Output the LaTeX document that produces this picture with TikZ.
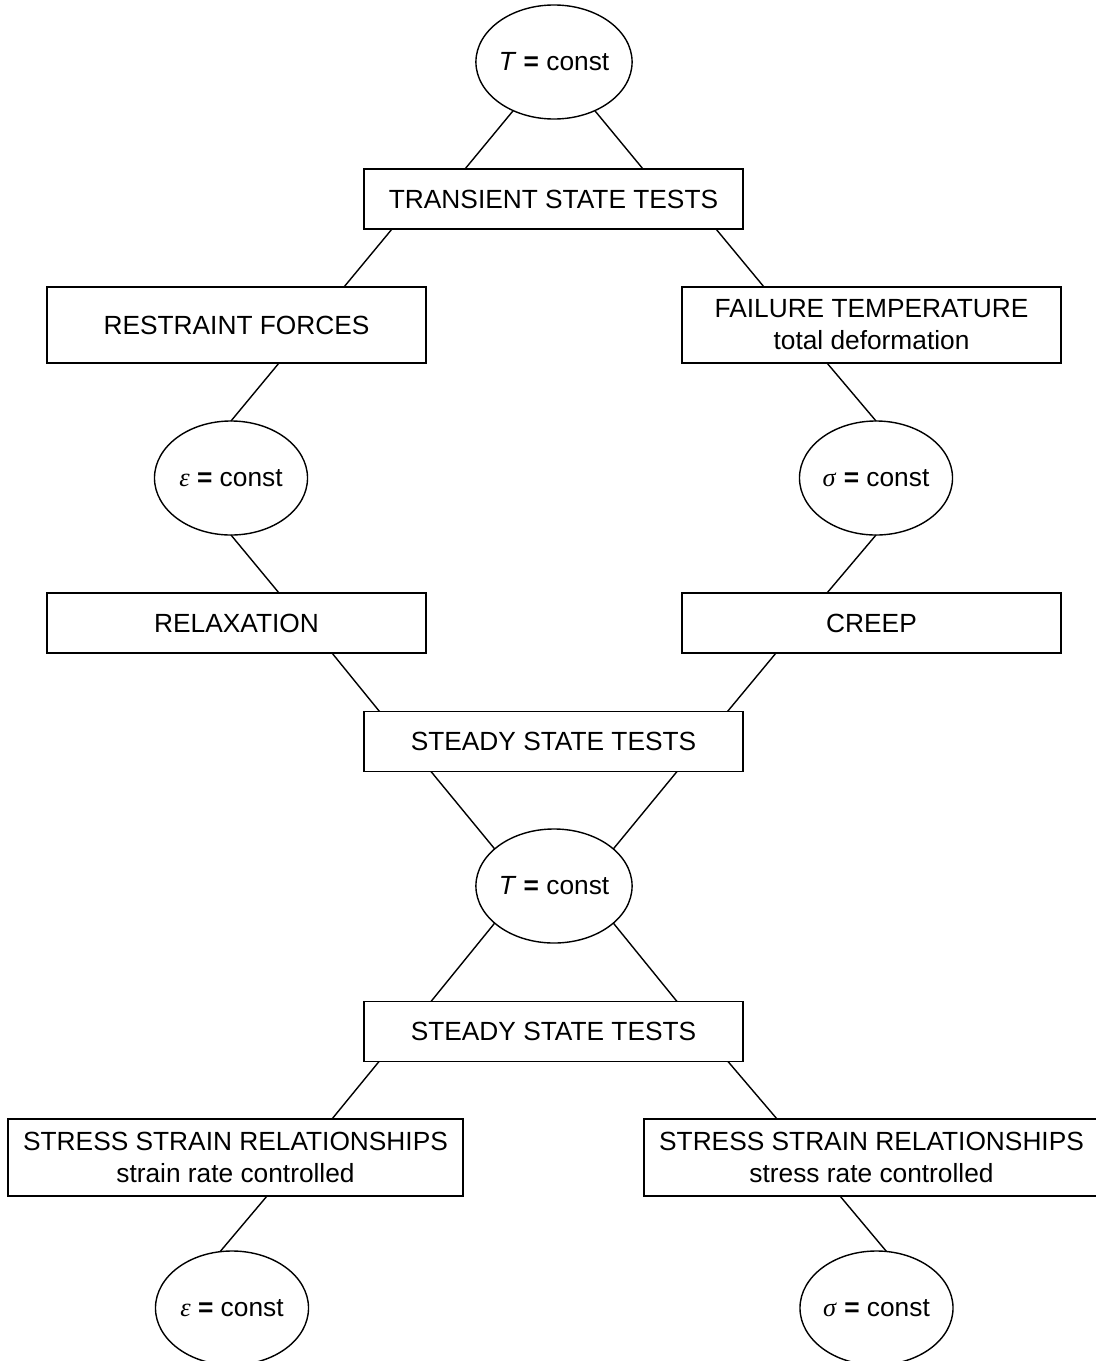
\documentclass[tikz,border=0pt]{standalone}
\usepackage{amsmath}
\usepackage{fontspec}
\setmainfont{Liberation Sans}
\newfontfamily\greekfont{Liberation Serif}
\usetikzlibrary{calc, shapes, positioning}

\tikzset{
	box/.style={draw, line width=1pt, minimum width=9.475cm, minimum height=1.5cm,
		inner sep=0pt, outer sep=0pt, align=center},
	tallbox/.style={box, minimum height=1.9cm},
	widebox/.style={box, minimum width=11.375cm, minimum height=1.925cm},
	oval/.style={draw, line width=1pt, ellipse, minimum width=3.825cm, minimum height=2.85cm,
		inner sep=0pt, outer sep=0pt},
	link/.style={line width=1pt},
}
\newcommand{\isconst}[1]{#1 \textbf{=} const}
\newcommand{\grk}[1]{{\greekfont\itshape #1}}

\begin{document}
\begin{tikzpicture}[x=0.025cm, y=-0.025cm, font=\fontsize{18.7}{22.8}\selectfont]
	\useasboundingbox (0,0) rectangle (1096,1361);
	
	\coordinate (Ttop)  at (554,62);
	\coordinate (Tr)    at (553.5,199);
	\coordinate (Rf)    at (236.5,325);
	\coordinate (Ft)    at (871.5,325);
	\coordinate (Eps)   at (231,478);
	\coordinate (Sig)   at (876,478);
	\coordinate (Rx)    at (236.5,623);
	\coordinate (Cr)    at (871.5,623);
	\coordinate (St)    at (553.5,741.5);
	\coordinate (Tmid)  at (554,886);
	\coordinate (Std)   at (553.5,1031.5);
	\coordinate (Ssl)   at (235.5,1157.5);
	\coordinate (Ssr)   at (871.5,1157.5);
	\coordinate (Epsd)  at (232,1308);
	\coordinate (Sigd)  at (876.5,1308);
	
	\node[oval] (T1) at (Ttop) {\isconst{\textit{T}}};
	\node[box] (TST) at (Tr) {TRANSIENT STATE TESTS};
	\node[tallbox] (RF) at (Rf) {RESTRAINT FORCES};
	\node[tallbox] (FT) at (Ft) {FAILURE TEMPERATURE\\total deformation};
	\node[oval] (E1) at (Eps) {\isconst{\grk{ε}}};
	\node[oval] (S1) at (Sig) {\isconst{\grk{σ}}};
	\node[box] (RX) at (Rx) {RELAXATION};
	\node[box] (CR) at (Cr) {CREEP};
	\node[box] (SST1) at (St) {STEADY STATE TESTS};
	\node[oval] (T2) at (Tmid) {\isconst{\textit{T}}};
	\node[box] (SST2) at (Std) {STEADY STATE TESTS};
	\node[widebox] (SSL) at (Ssl) {STRESS STRAIN RELATIONSHIPS\\strain rate controlled};
	\node[widebox] (SSR) at (Ssr) {STRESS STRAIN RELATIONSHIPS\\stress rate controlled};
	\node[oval] (E2) at (Epsd) {\isconst{\grk{ε}}};
	\node[oval] (S2) at (Sigd) {\isconst{\grk{σ}}};
	
	% transient branch
	\draw[link] (T1.230) -- ($(TST.north)+(-88.5,0)$);
	\draw[link] (T1.310) -- ($(TST.north)+(89.5,0)$);
	\draw[link] ($(TST.south)+(-161.5,0)$) -- ($(RF.north)+(107.5,0)$);
	\draw[link] ($(TST.south)+(162.5,0)$) -- ($(FT.north)+(-107.5,0)$);
	\draw[link] ($(RF.south)+(42.5,0)$) -- (E1.north);
	\draw[link] ($(FT.south)+(-44.5,0)$) -- (S1.north);
	\draw[link] (E1.south) -- ($(RX.north)+(42.5,0)$);
	\draw[link] (S1.south) -- ($(CR.north)+(-44.5,0)$);
	\draw[link] ($(RX.south)+(95.5,0)$) -- ($(SST1.north)+(-174,0)$);
	\draw[link] ($(CR.south)+(-95.5,0)$) -- ($(SST1.north)+(174,0)$);
	
	% steady branch
	\draw[link] ($(SST1.south)+(-122.5,0)$) -- (T2.148);
	\draw[link] ($(SST1.south)+(123.5,0)$) -- (T2.32);
	\draw[link] (T2.212) -- ($(SST2.north)+(-122.5,0)$);
	\draw[link] (T2.328) -- ($(SST2.north)+(123.5,0)$);
	\draw[link] ($(SST2.south)+(-174.5,0)$) -- ($(SSL.north)+(96.5,0)$);
	\draw[link] ($(SST2.south)+(174.5,0)$) -- ($(SSR.north)+(-94.5,0)$);
	\draw[link] ($(SSL.south)+(31.5,0)$) -- (E2.102);
	\draw[link] ($(SSR.south)+(-31.5,0)$) -- (S2.80);
\end{tikzpicture}
\end{document}
